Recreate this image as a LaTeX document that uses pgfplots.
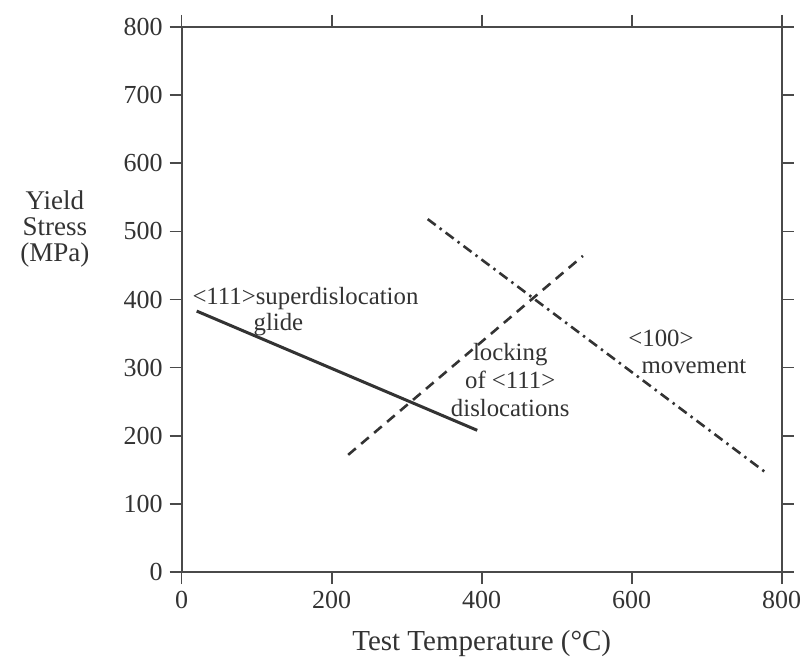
\documentclass[border=0pt]{standalone}
\usepackage{pgfplots}
\pgfplotsset{compat=1.18}
\usepackage{fontspec}
\setmainfont{Liberation Serif}

\definecolor{ink}{HTML}{333333}
\definecolor{axisgray}{HTML}{4A4A4A}

\begin{document}
\begin{tikzpicture}
\path[use as bounding box] (-90.85pt,-43.5pt) rectangle (310.15pt,286pt);
\begin{axis}[
  at={(0,0)}, anchor=south west,
  width=300pt, height=272.5pt, scale only axis,
  xmin=0, xmax=800, ymin=0, ymax=800,
  xtick={0,200,400,600,800},
  ytick={0,100,200,300,400,500,600,700,800},
  xticklabel pos=lower, yticklabel pos=left,
  tick align=outside, major tick length=6pt,
  axis line style={axisgray, line width=0.9pt},
  tick style={axisgray, line width=0.8pt},
  ticklabel style={font=\fontsize{13}{13}\selectfont, text=ink},
  /pgf/number format/assume math mode=true,
  xlabel={Test Temperature (°C)},
  xlabel style={at={(axis description cs:0.5,0)}, anchor=base, yshift=-39pt,
                font=\fontsize{14.5}{15}\selectfont, text=ink},
  clip=false,
]
% regime boundaries
\addplot[ink, line width=1.5pt] coordinates {(20,383) (394,208)};
\addplot[ink, line width=1.3pt, dash pattern=on 5pt off 3.5pt] coordinates {(222,172) (535,464)};
\addplot[ink, line width=1.3pt, dash pattern=on 5pt off 2.5pt on 1.2pt off 2.5pt] coordinates {(328,518) (780,145)};

% regime labels
\begin{scope}[every node/.style={font=\fontsize{12.4}{14}\selectfont, text=ink}]
\node at (axis cs:165,402) {<111>superdislocation};
\node at (axis cs:129,363) {glide};
\node[align=center] at (axis cs:438,282) {locking\\of <111>\\dislocations};
\node at (axis cs:639,343) {<100>};
\node at (axis cs:683,302) {movement};
\end{scope}

% vertical axis title
\node[align=center, font=\fontsize{13.5}{13}\selectfont, text=ink]
  at (rel axis cs:0,0.629) [xshift=-63.4pt] {Yield\\Stress\\(MPa)};
\end{axis}
\end{tikzpicture}
\end{document}
